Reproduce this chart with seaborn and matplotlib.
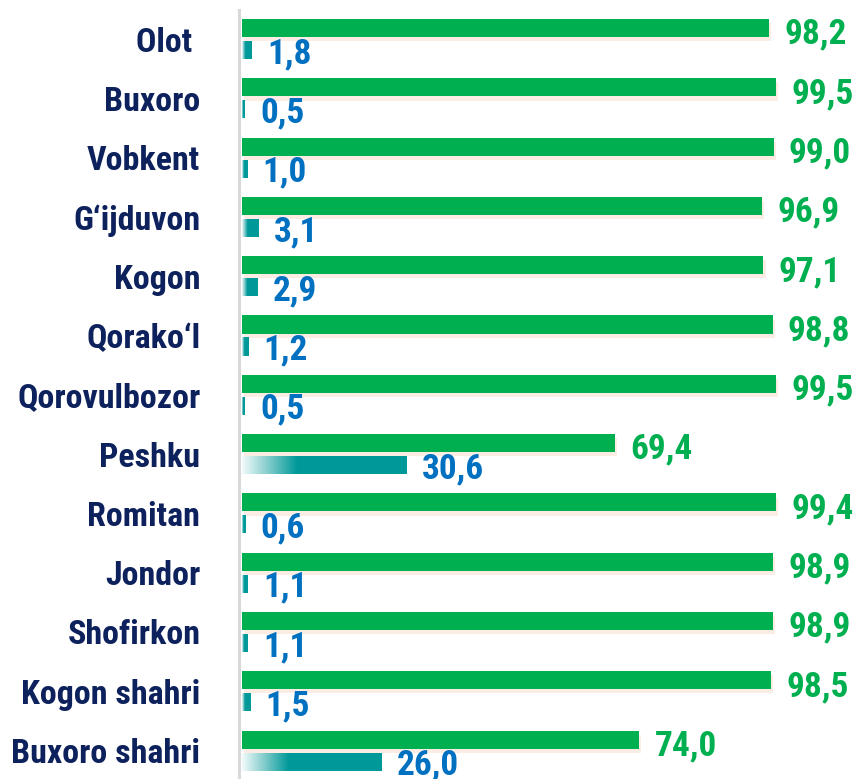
import numpy as np
import pandas as pd
import matplotlib
matplotlib.use('Agg')
import matplotlib.pyplot as plt
import matplotlib.patheffects as pe
from matplotlib.colors import LinearSegmentedColormap
import seaborn as sns

# --- data ---
regions = ['Olot ', 'Buxoro', 'Vobkent', 'G\u2018ijduvon', 'Kogon', 'Qorako\u2018l',
           'Qorovulbozor', 'Peshku', 'Romitan', 'Jondor', 'Shofirkon',
           'Kogon shahri', 'Buxoro shahri']
share_green = [98.2, 99.5, 99.0, 96.9, 97.1, 98.8, 99.5, 69.4, 99.4, 98.9, 98.9, 98.5, 74.0]
share_teal = [1.8, 0.5, 1.0, 3.1, 2.9, 1.2, 0.5, 30.6, 0.6, 1.1, 1.1, 1.5, 26.0]
series = ['green', 'teal']

GREEN = '#00b050'
TEAL = '#009999'
NAVY = '#0d215c'
BLUE = '#0070c0'

df = pd.DataFrame({
    'region': regions * 2,
    'value': share_green + share_teal,
    'series': ['green'] * len(regions) + ['teal'] * len(regions),
})

sns.set_style('white')
plt.rcParams['font.family'] = ['Roboto Condensed', 'DejaVu Sans']
plt.rcParams['font.weight'] = 'bold'

fig = plt.figure(figsize=(8.6, 7.79), dpi=100)
ax = fig.add_axes([242 / 860, 0, 618 / 860, 1 - 10 / 779])

sns.barplot(data=df, y='region', x='value', hue='series', orient='h',
            palette={'green': GREEN, 'teal': TEAL}, hue_order=series,
            width=0.742, gap=0.18, errorbar=None, linewidth=0, saturation=1,
            legend=False, ax=ax)

xmax = 618 / 5.37
green_bars = ax.containers[0]
teal_bars = ax.containers[1]

# soft peach shadow under green bars
for p in green_bars:
    p.set_path_effects([pe.SimplePatchShadow(offset=(1.5, -3), shadow_rgbFace='#f8d8c2', alpha=0.45),
                        pe.Normal()])

# white -> teal gradient on the teal bars
cmap = LinearSegmentedColormap.from_list('tealgrad', ['#f2fafa', '#7cc9c9', TEAL, TEAL])
grad = np.clip(np.linspace(0, 1, 256) / 0.5, 0, 1)[None, :]
for p in teal_bars:
    x0, y0 = p.get_x(), p.get_y()
    w, h = p.get_width(), p.get_height()
    im = ax.imshow(grad, cmap=cmap, aspect='auto', extent=[x0, x0 + w, y0 + h, y0],
                   interpolation='bilinear', zorder=p.get_zorder() + 0.1, vmin=0, vmax=1)
    im.set_clip_path(p)

ax.set_xlim(0, xmax)
ax.set_ylim(12.48, -0.49)

# value labels
g_labels = ax.bar_label(green_bars, labels=[f'{v:.1f}'.replace('.', ',') for v in share_green],
                        padding=11, color=GREEN, fontsize=25.5, fontweight='bold')
t_labels = ax.bar_label(teal_bars, labels=[f'{v:.1f}'.replace('.', ',') for v in share_teal],
                        padding=11, color=BLUE, fontsize=25.5, fontweight='bold')
for t in g_labels:
    t.xyann = (11, -4.5)
for t in t_labels:
    t.xyann = (11, -2.5)

ax.set_xlabel('')
ax.set_ylabel('')
ax.set_xticks([])
ax.set_yticks(range(len(regions)), labels=regions)
ax.tick_params(axis='y', length=0, pad=28, labelsize=24.5, labelcolor=NAVY)

for s in ['top', 'right', 'bottom']:
    ax.spines[s].set_visible(False)
ax.spines['left'].set_color('#d9d9d9')
ax.spines['left'].set_linewidth(2.2)
ax.spines['left'].set_position(('outward', 2))

fig.savefig('out.png', dpi=100)
